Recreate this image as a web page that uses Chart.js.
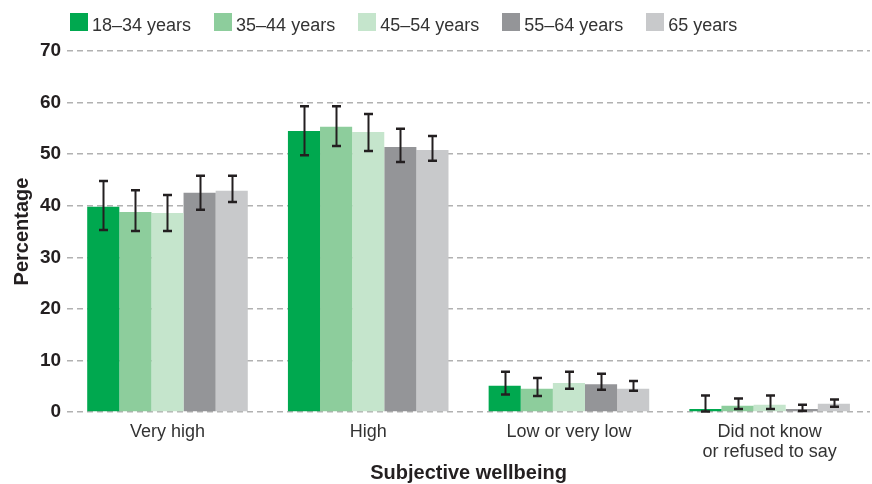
<!DOCTYPE html>
<html>
<head>
<meta charset="utf-8">
<script src="https://cdn.jsdelivr.net/npm/chart.js@4/dist/chart.umd.min.js"></script>
<style>
  html, body { margin: 0; padding: 0; background: #fff; }
  #wrap { position: relative; width: 872px; height: 484px; }
  #legend {
    position: absolute; top: 13px; left: 70px;
    display: flex; align-items: flex-start; gap: 23px;
    font-family: "Liberation Sans", Arial, sans-serif; font-size: 18px; color: #333;
  }
  .item { display: flex; align-items: flex-start; }
  .swatch { width: 18px; height: 18px; margin-right: 4px; }
  .label { line-height: 18px; position: relative; top: 3px; white-space: nowrap; }
</style>
</head>
<body>
<div id="wrap">
  <canvas id="chart" width="872" height="484"></canvas>
  <div id="legend"></div>
</div>
<script>
// Categories on the x axis
const categories = ['Very high', 'High', 'Low or very low', ['Did not know', 'or refused to say']];

// Age groups and their colours
const groups = ['18–34 years', '35–44 years', '45–54 years', '55–64 years', '65 years'];
const colors = ['#00a84f', '#8dcd9c', '#c5e5cc', '#949598', '#c8c9cb'];

// Percentages per age group (one value per category)
const age18to34 = [39.8, 54.5, 5.1, 0.6];
const age35to44 = [38.8, 55.3, 4.5, 1.2];
const age45to54 = [38.6, 54.3, 5.6, 1.4];
const age55to64 = [42.5, 51.4, 5.4, 0.6];
const age65 = [42.9, 50.8, 4.5, 1.6];

// Confidence interval bounds per age group
const low18to34 = [35.3, 49.8, 3.4, 0.1];
const high18to34 = [44.8, 59.3, 7.8, 3.2];
const low35to44 = [35.1, 51.6, 3.1, 0.6];
const high35to44 = [43.0, 59.3, 6.6, 2.6];
const low45to54 = [35.1, 50.6, 4.5, 0.6];
const high45to54 = [42.1, 57.8, 7.8, 3.2];
const low55to64 = [39.2, 48.5, 4.3, 0.2];
const high55to64 = [45.8, 54.9, 7.4, 1.4];
const low65 = [40.7, 48.7, 4.1, 1.0];
const high65 = [45.8, 53.5, 6.0, 2.4];

// Y axis ticks
const yTicks = [0, 10, 20, 30, 40, 50, 60, 70];

const values = [age18to34, age35to44, age45to54, age55to64, age65];
const lows = [low18to34, low35to44, low45to54, low55to64, low65];
const highs = [high18to34, high35to44, high45to54, high55to64, high65];

const FONT = '"Liberation Sans", Arial, sans-serif';
const INK = '#231f20';

// Draws the vertical interval with caps over each bar
const errorBars = {
  id: 'errorBars',
  afterDatasetsDraw(chart) {
    const { ctx, scales: { y } } = chart;
    ctx.save();
    ctx.strokeStyle = INK;
    chart.data.datasets.forEach((ds, i) => {
      const meta = chart.getDatasetMeta(i);
      if (meta.hidden) return;
      meta.data.forEach((bar, j) => {
        const x = Math.round(bar.x) + 0.5;
        const yTop = y.getPixelForValue(ds.errHigh[j]);
        const yBot = y.getPixelForValue(ds.errLow[j]);
        ctx.lineWidth = 2;
        ctx.beginPath();
        ctx.moveTo(x, yTop);
        ctx.lineTo(x, yBot);
        ctx.stroke();
        ctx.lineWidth = 2.5;
        ctx.beginPath();
        ctx.moveTo(x - 4.5, yTop);
        ctx.lineTo(x + 4.5, yTop);
        ctx.moveTo(x - 4.5, yBot);
        ctx.lineTo(x + 4.5, yBot);
        ctx.stroke();
      });
    });
    ctx.restore();
  }
};

const chart = new Chart(document.getElementById('chart'), {
  type: 'bar',
  data: {
    labels: categories,
    datasets: groups.map((g, i) => ({
      label: g,
      data: values[i],
      errLow: lows[i],
      errHigh: highs[i],
      backgroundColor: colors[i],
      borderWidth: 0,
      barPercentage: 1.0,
      categoryPercentage: 0.8
    }))
  },
  options: {
    responsive: false,
    animation: false,
    layout: { padding: { top: 51, right: 2, left: 0, bottom: 0 } },
    plugins: {
      legend: { display: false },
      tooltip: { enabled: false }
    },
    scales: {
      x: {
        grid: { display: false, drawTicks: true, tickLength: 10.4 },
        border: { display: false },
        ticks: {
          autoSkip: false, maxRotation: 0, padding: 0,
          color: '#333',
          font: { family: FONT, size: 18, lineHeight: 1.1 }
        },
        title: {
          display: true, text: 'Subjective wellbeing', color: INK,
          padding: 0,
          font: { family: FONT, size: 20, weight: 'bold', lineHeight: 1.1 }
        }
      },
      y: {
        min: 0, max: 70,
        afterBuildTicks(scale) { scale.ticks = yTicks.map(v => ({ value: v })); },
        grid: {
          color: '#b1b1b1', lineWidth: 1.5, drawTicks: false
        },
        border: { display: false, dash: [6, 4] },
        ticks: {
          padding: 6, color: INK,
          font: { family: FONT, size: 19, weight: 'bold' }
        },
        title: {
          display: true, text: 'Percentage', color: INK,
          padding: { top: 10, bottom: 0 },
          font: { family: FONT, size: 20, weight: 'bold' }
        }
      }
    }
  },
  plugins: [errorBars]
});

// Legend built from the chart's datasets
const legend = document.getElementById('legend');
chart.data.datasets.forEach(ds => {
  const item = document.createElement('div');
  item.className = 'item';
  const sw = document.createElement('span');
  sw.className = 'swatch';
  sw.style.background = ds.backgroundColor;
  const tx = document.createElement('span');
  tx.className = 'label';
  tx.textContent = ds.label;
  item.appendChild(sw);
  item.appendChild(tx);
  legend.appendChild(item);
});
</script>
</body>
</html>
